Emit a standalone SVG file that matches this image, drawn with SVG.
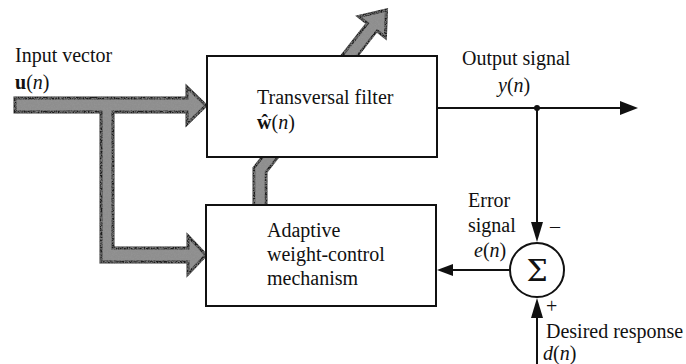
<svg xmlns="http://www.w3.org/2000/svg" width="686" height="364" viewBox="0 0 686 364">
<defs>
<style>
.t{font-family:"Liberation Serif","Times New Roman",serif;font-size:20px;fill:#111}
.i{font-style:italic}
.b{font-weight:bold}
.box{fill:#fff;stroke:#111;stroke-width:2}
.ln{fill:none;stroke:#111;stroke-width:2}
.ah{fill:#111;stroke:none}
.fat{fill:#8e8e8e;stroke:#1e1e1e;stroke-width:3;stroke-linejoin:miter}
</style>
<filter id="grain" filterUnits="userSpaceOnUse" x="0" y="0" width="686" height="364">
<feTurbulence type="fractalNoise" baseFrequency="0.7" numOctaves="2" seed="3" result="n"/>
<feColorMatrix in="n" type="matrix" values="0 0 0 0 0.3  0 0 0 0 0.3  0 0 0 0 0.3  0 0 0 1.6 -0.55" result="m"/>
<feComposite in="m" in2="SourceGraphic" operator="in" result="g"/>
<feMerge><feMergeNode in="SourceGraphic"/><feMergeNode in="g"/></feMerge>
</filter>
</defs>
<rect width="686" height="364" fill="#fff"/>
<g id="connectors">
<polygon class="fat" filter="url(#grain)" points="15,98 187,98 187,87 206,105.5 187,124 187,112 113,112 113,248 188,248 188,236 206,255 188,274 188,262 101,262 101,112 15,112"/>
<g filter="url(#grain)">
<path d="M260,206 L260,170 L372,27" fill="none" stroke="#1e1e1e" stroke-width="15" stroke-linejoin="miter"/>
<polygon class="fat" points="358.6,16.5 386.5,10 385.4,37.5"/>
<path d="M260,207 L260,170 L374,25" fill="none" stroke="#8e8e8e" stroke-width="9.5" stroke-linejoin="miter"/>
</g>
<path class="ln" d="M437,108 L622,108"/>
<polygon class="ah" points="620,101 638,108 620,115"/>
<circle cx="537" cy="108" r="3" fill="#111"/>
<path class="ln" d="M537,108 L537,225"/>
<polygon class="ah" points="531,222 537,242 543,222"/>
<path class="ln" d="M510,270 L450,270"/>
<polygon class="ah" points="453,264 437,270 453,276"/>
<path class="ln" d="M537,364 L537,316"/>
<polygon class="ah" points="531,318 537,298 543,318"/>
</g>
<g id="filter">
<rect class="box" x="207" y="56" width="230" height="101"/>
<text class="t" x="257" y="104" font-size="19.5">Transversal filter</text>
<text class="t" x="257" y="129"><tspan class="b">ŵ</tspan>(<tspan class="i">n</tspan>)</text>
</g>
<g id="adaptive">
<rect class="box" x="206" y="205" width="230" height="101"/>
<text class="t" x="267" y="237">Adaptive</text>
<text class="t" x="267" y="261">weight-control</text>
<text class="t" x="267" y="285">mechanism</text>
</g>
<g id="sum">
<circle cx="537" cy="270" r="27" fill="#fff" stroke="#111" stroke-width="2"/>
<text x="537" y="281" font-family="'DejaVu Serif','Liberation Serif',serif" font-size="30" text-anchor="middle" fill="#111">Σ</text>
</g>
<g id="labels">
<text class="t" x="15" y="62">Input vector</text>
<text class="t" x="15" y="89"><tspan class="b">u</tspan>(<tspan class="i">n</tspan>)</text>
<text class="t" x="462" y="65">Output signal</text>
<text class="t" x="498" y="92"><tspan class="i">y</tspan>(<tspan class="i">n</tspan>)</text>
<text class="t" x="468" y="207">Error</text>
<text class="t" x="468" y="232">signal</text>
<text class="t" x="474" y="257"><tspan class="i">e</tspan>(<tspan class="i">n</tspan>)</text>
<text class="t" x="550" y="233">–</text>
<text class="t" x="546" y="313" font-size="16">+</text>
<text class="t" x="546" y="338">Desired response</text>
<text class="t" x="543" y="360"><tspan class="i">d</tspan>(<tspan class="i">n</tspan>)</text>
</g>
</svg>
